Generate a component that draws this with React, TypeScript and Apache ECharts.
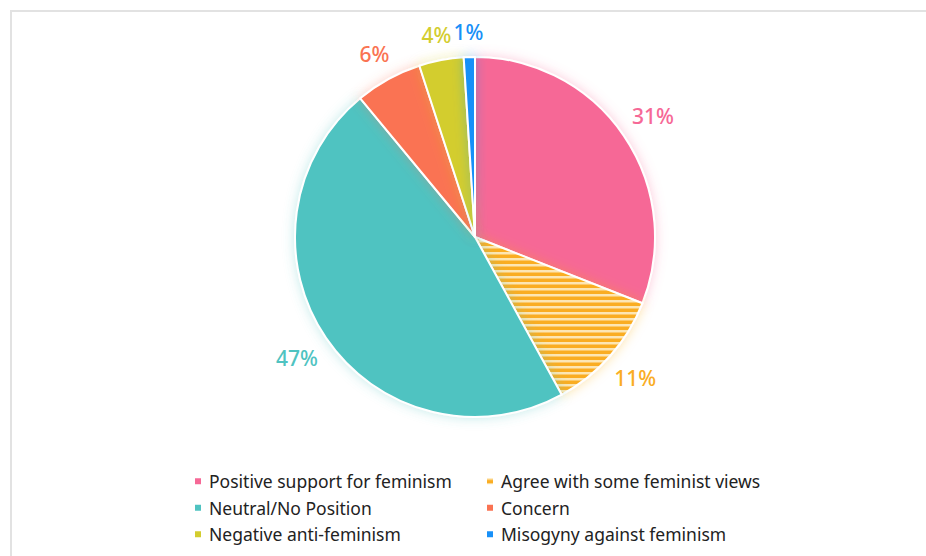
import React, { useEffect, useRef } from "react";
import * as echarts from "echarts";

const categories = [
  "Positive support for feminism",
  "Agree with some feminist views",
  "Neutral/No Position",
  "Concern",
  "Negative anti-feminism",
  "Misogyny against feminism",
];
const values = [31, 11, 47, 6, 4, 1];
const colors = ["#F66896", "#FAAD23", "#4FC3C1", "#FA7352", "#D3CD2F", "#1890F8"];
const glows = [
  "rgba(246,104,150,0.35)",
  "rgba(250,173,35,0.35)",
  "rgba(79,195,193,0.35)",
  "rgba(250,115,82,0.35)",
  "rgba(211,205,47,0.35)",
  "rgba(24,144,248,0.35)",
];
const hatched = [false, true, false, false, false, false];
const stripeLight = "#FDE6B3";

const FONT = "'Noto Sans', Roboto, sans-serif";
const CX = 475;
const CY = 237;

function makeStripes(base: string) {
  const c = document.createElement("canvas");
  c.width = 6;
  c.height = 6;
  const ctx = c.getContext("2d")!;
  ctx.fillStyle = base;
  ctx.fillRect(0, 0, 6, 6);
  ctx.fillStyle = stripeLight;
  ctx.fillRect(0, 0, 6, 2.5);
  return c;
}

export default function App() {
  const ref = useRef<HTMLDivElement>(null);
  useEffect(() => {
    if (!ref.current) return;
    const chart = echarts.init(ref.current, undefined, { renderer: "svg" });
    const pieData = categories.map((name, i) => ({
      name,
      value: values[i],
      itemStyle: {
        color: hatched[i]
          ? { image: makeStripes(colors[i]), repeat: "repeat", imageWidth: 6, imageHeight: 6 }
          : colors[i],
        shadowBlur: 12,
        shadowColor: glows[i],
      },
    }));
    const labelData = categories.map((name, i) => ({
      name,
      value: values[i],
      label: { color: colors[i] },
    }));
    chart.setOption({
      animation: false,
      textStyle: { fontFamily: FONT },
      legend: {
        left: 193,
        top: 471.5,
        width: 600,
        padding: 0,
        itemWidth: 8,
        itemHeight: 8,
        itemGap: 7,
        icon: "rect",
        data: categories,
        textStyle: {
          fontFamily: FONT,
          fontSize: 17.5,
          color: "#222",
          width: 269,
          lineHeight: 19.5,
          padding: [0, 0, 0, 2],
        },
      },
      series: [
        {
          type: "pie",
          center: [CX, CY],
          radius: [0, 180],
          startAngle: 90,
          clockwise: true,
          silent: true,
          label: { show: false },
          labelLine: { show: false },
          itemStyle: { borderColor: "#fff", borderWidth: 2 },
          data: pieData,
        },
        {
          type: "pie",
          center: [CX, CY],
          radius: [180, 236],
          startAngle: 90,
          clockwise: true,
          silent: true,
          itemStyle: { color: "rgba(0,0,0,0)" },
          label: {
            show: true,
            position: "inside",
            formatter: "{d}%",
            fontFamily: FONT,
            fontSize: 21,
            fontWeight: 500,
          },
          labelLine: { show: false },
          labelLayout: (p: any) => {
            const r = p.labelRect;
            const mx = r.x + r.width / 2 - CX;
            const my = r.y + r.height / 2 - CY;
            const d = Math.sqrt(mx * mx + my * my) || 1;
            const ux = mx / d;
            const uy = my / d;
            const rr = 205 + 15 * ux * ux;
            return { x: CX + ux * rr, y: CY + uy * rr, align: "center", verticalAlign: "middle" };
          },
          data: labelData,
        },
      ],
    });
    return () => chart.dispose();
  }, []);
  return (
    <div
      style={{
        position: "fixed",
        left: 0,
        top: 0,
        width: 926,
        height: 556,
        overflow: "hidden",
        background: "#fff",
      }}
    >
      <div
        style={{
          position: "absolute",
          left: 10,
          top: 10,
          width: 1000,
          height: 700,
          borderLeft: "2px solid #e2e2e2",
          borderTop: "2px solid #e2e2e2",
        }}
      />
      <div ref={ref} style={{ position: "absolute", left: 0, top: 0, width: 926, height: 556 }} />
    </div>
  );
}
